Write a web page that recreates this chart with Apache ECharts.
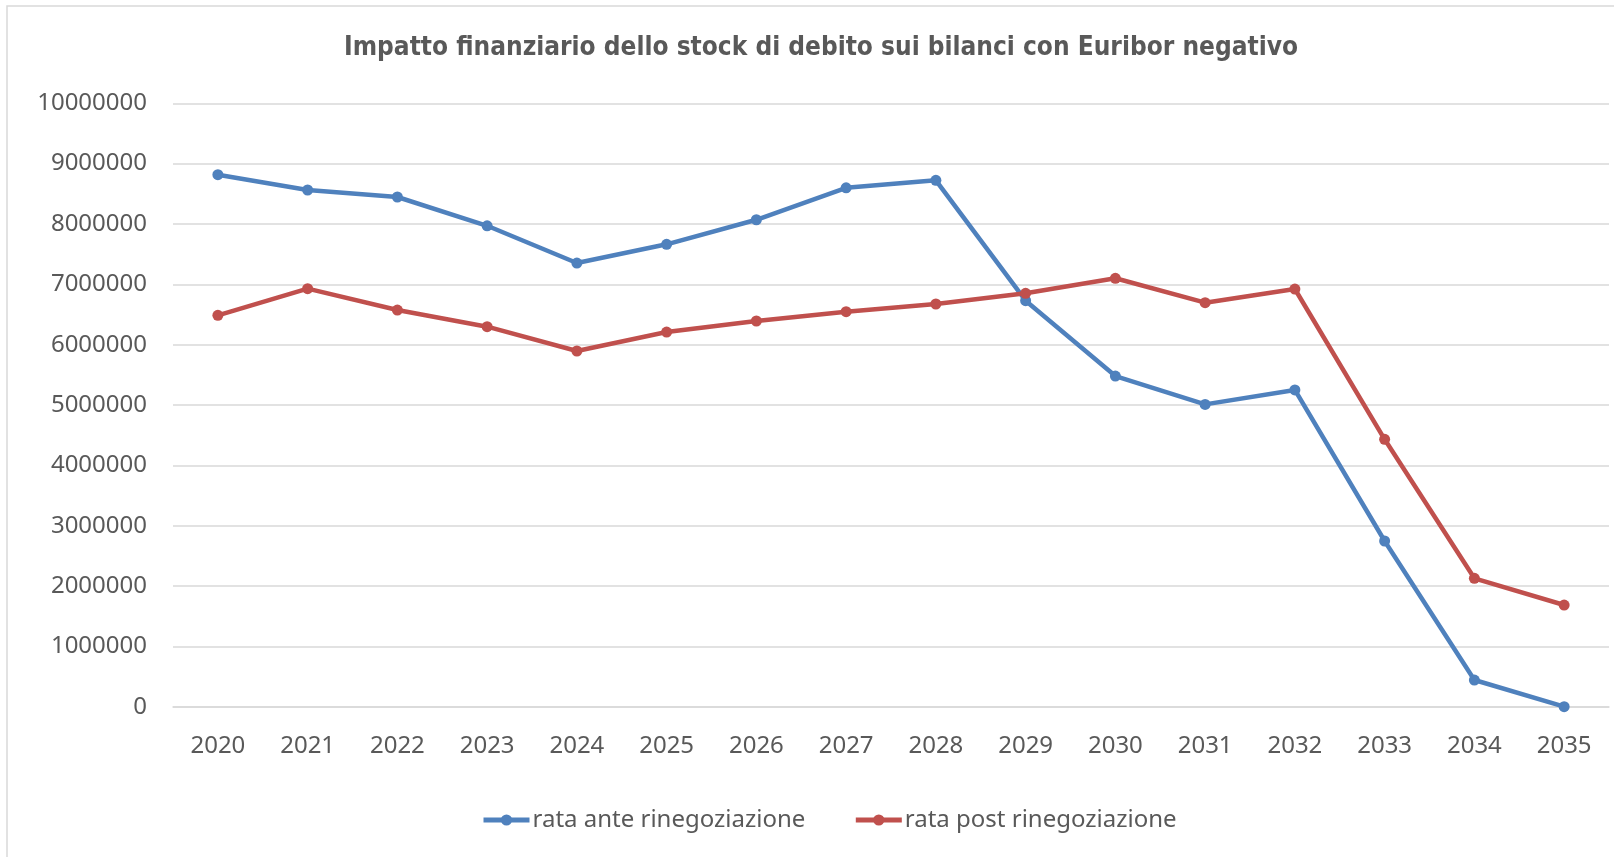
<!DOCTYPE html>
<html>
<head>
<meta charset="utf-8">
<script src="https://cdn.jsdelivr.net/npm/echarts@6/dist/echarts.min.js"></script>
<style>
  html, body { margin: 0; padding: 0; background: #fff; }
  #chart { width: 1614px; height: 857px; }
</style>
</head>
<body>
<div id="chart"></div>
<script>
const years = ["2020", "2021", "2022", "2023", "2024", "2025", "2026", "2027",
  "2028", "2029", "2030", "2031", "2032", "2033", "2034", "2035"];
const rataAnte = [8817000, 8563000, 8447000, 7970000, 7353000, 7663000, 8070000, 8600000,
  8724000, 6729000, 5480000, 5010000, 5249000, 2746000, 442000, 0];
const rataPost = [6486000, 6928000, 6574000, 6298000, 5895000, 6209000, 6392000, 6546000,
  6674000, 6851000, 7100000, 6696000, 6922000, 4431000, 2128000, 1685000];

const textColor = "#595959";
const gridColor = "#d9d9d9";

const myChart = echarts.init(document.getElementById("chart"));
const option = {
  backgroundColor: "#fff",
  animation: false,
  graphic: [
    {
      type: "rect",
      shape: { x: 7, y: 6, width: 1700, height: 900 },
      style: { fill: "none", stroke: gridColor, lineWidth: 1.5 },
    },
  ],
  title: {
    text: "Impatto finanziario dello stock di debito sui bilanci con Euribor negativo",
    left: 821,
    top: 35,
    padding: 0,
    textAlign: "center",
    textStyle: {
      color: textColor,
      fontFamily: "'Liberation Sans Narrow', 'DejaVu Sans Condensed', sans-serif",
      fontWeight: "bold",
      fontSize: 26,
    },
  },
  legend: {
    data: ["rata ante rinegoziazione", "rata post rinegoziazione"],
    left: 481,
    top: 808,
    padding: 0,
    itemWidth: 46,
    itemHeight: 14,
    itemGap: 48,
    lineStyle: { width: 5 },
    textStyle: {
      color: textColor,
      fontFamily: "'Noto Sans', sans-serif",
      fontSize: 24,
      padding: [0, 0, 0, -2],
    },
  },
  grid: {
    left: 173,
    right: 5,
    top: 103.3,
    bottom: 150.3,
    containLabel: false,
  },
  xAxis: {
    type: "category",
    data: years,
    boundaryGap: true,
    axisLine: { show: true, lineStyle: { color: gridColor, width: 1.5 } },
    axisTick: { show: false },
    axisLabel: {
      color: textColor,
      fontFamily: "'Noto Sans', sans-serif",
      fontSize: 24,
      margin: 27,
    },
  },
  yAxis: {
    type: "value",
    min: 0,
    max: 10000000,
    interval: 1000000,
    axisLine: { show: false },
    axisTick: { show: false },
    splitLine: { lineStyle: { color: gridColor, width: 1.5 } },
    axisLabel: {
      color: textColor,
      fontFamily: "'Noto Sans', sans-serif",
      fontSize: 24,
      margin: 26,
      formatter: (v) => String(v),
    },
  },
  series: [
    {
      name: "rata ante rinegoziazione",
      type: "line",
      data: rataAnte,
      symbol: "circle",
      symbolSize: 11,
      lineStyle: { color: "#4f81bd", width: 4.5 },
      itemStyle: { color: "#4f81bd" },
    },
    {
      name: "rata post rinegoziazione",
      type: "line",
      data: rataPost,
      symbol: "circle",
      symbolSize: 11,
      lineStyle: { color: "#c0504d", width: 4.5 },
      itemStyle: { color: "#c0504d" },
    },
  ],
};
myChart.setOption(option);
</script>
</body>
</html>
